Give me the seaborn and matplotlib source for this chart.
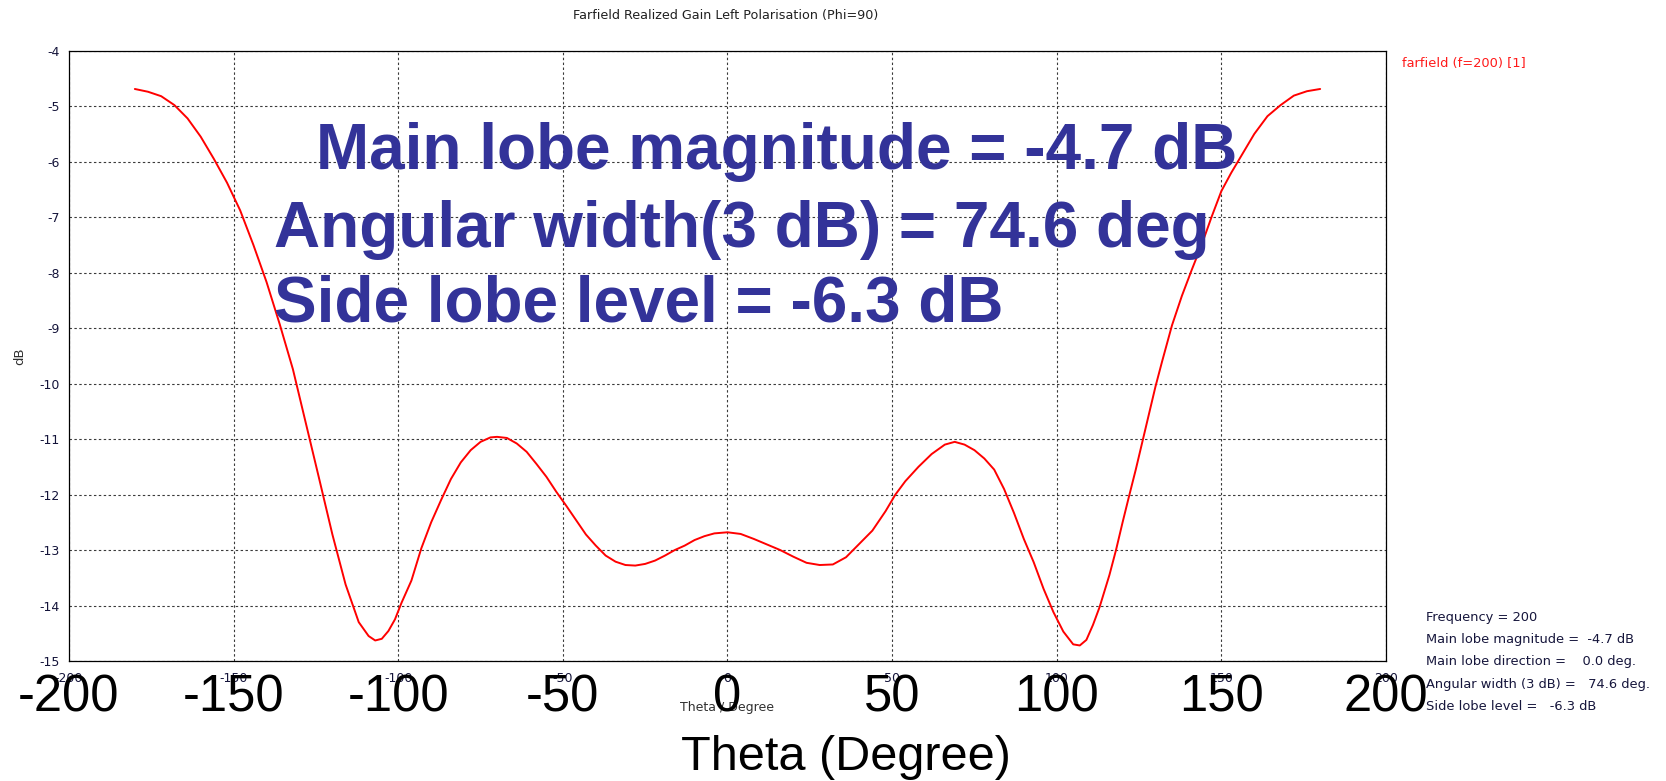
import matplotlib
matplotlib.use("Agg")
import matplotlib.pyplot as plt
from matplotlib import font_manager
from matplotlib.transforms import blended_transform_factory
import pandas as pd
import seaborn as sns

# Farfield cut, phi = 90 deg, f = 200
theta_deg = [-180, -176, -172, -168, -164, -160, -156, -152, -148, -144, -140,
             -136, -132, -128, -124, -120, -116, -112, -109, -107, -105, -103,
             -101, -99, -96, -93, -90, -87, -84, -81, -78, -75, -72, -70, -67,
             -64, -61, -58, -55, -52, -49, -46, -43, -40, -37, -34, -31, -28,
             -25, -22, -19, -16, -13, -10, -7, -4, 0, 4, 8, 12, 16, 20, 24, 28,
             32, 36, 40, 44, 48, 51, 54, 58, 62, 66, 69, 72, 75, 78, 81, 84, 87,
             90, 93, 96, 99, 102, 105, 107, 109, 111, 113, 116, 118, 120, 122,
             124, 126, 128, 130, 132, 135, 138, 141, 144, 147, 150, 153, 156,
             160, 164, 168, 172, 176, 180]
gain_db = [-4.69, -4.74, -4.82, -4.98, -5.22, -5.55, -5.95, -6.38, -6.88, -7.50,
           -8.17, -8.93, -9.74, -10.73, -11.72, -12.72, -13.62, -14.30, -14.55,
           -14.63, -14.60, -14.46, -14.25, -13.95, -13.55, -12.97, -12.50,
           -12.10, -11.72, -11.42, -11.20, -11.05, -10.97, -10.96, -10.98,
           -11.08, -11.23, -11.45, -11.68, -11.95, -12.20, -12.46, -12.72,
           -12.92, -13.10, -13.21, -13.27, -13.28, -13.25, -13.19, -13.10,
           -13.00, -12.92, -12.82, -12.75, -12.70, -12.68, -12.71, -12.80,
           -12.90, -13.00, -13.12, -13.23, -13.27, -13.26, -13.13, -12.89,
           -12.65, -12.30, -12.00, -11.76, -11.50, -11.27, -11.10, -11.05,
           -11.10, -11.20, -11.35, -11.55, -11.90, -12.33, -12.80, -13.22,
           -13.70, -14.12, -14.47, -14.70, -14.72, -14.62, -14.35, -14.03,
           -13.45, -13.00, -12.50, -12.02, -11.55, -11.05, -10.55, -10.05,
           -9.60, -8.95, -8.42, -7.95, -7.50, -7.00, -6.53, -6.20, -5.90,
           -5.50, -5.18, -4.98, -4.81, -4.73, -4.69]

x_ticks = [-200, -150, -100, -50, 0, 50, 100, 150, 200]
y_ticks = [-15, -14, -13, -12, -11, -10, -9, -8, -7, -6, -5, -4]

title_text = "Farfield Realized Gain Left Polarisation (Phi=90)"
series_label = "farfield (f=200) [1]"
x_label_small = "Theta / Degree"
y_label_small = "dB"
x_label_big = "Theta (Degree)"
summary_lines = ["Frequency = 200",
                 "Main lobe magnitude =  -4.7 dB",
                 "Main lobe direction =    0.0 deg.",
                 "Angular width (3 dB) =   74.6 deg.",
                 "Side lobe level =   -6.3 dB"]
headline_lines = ["Main lobe magnitude = -4.7 dB",
                  "Angular width(3 dB) = 74.6 deg",
                  "Side lobe level = -6.3 dB"]

sns.set_style("white")
plt.rcParams["font.family"] = ["Liberation Sans", "DejaVu Sans"]

installed = {f.name for f in font_manager.fontManager.ttflist}
if "Liberation Sans Narrow" in installed:
    small_family, k = "Liberation Sans Narrow", 1.15
else:
    small_family, k = "DejaVu Sans", 1.0

W_PX, H_PX = 1666, 781
fig = plt.figure(figsize=(W_PX / 100, H_PX / 100), dpi=100)
fig.patch.set_facecolor("white")

ax_l, ax_r, ax_t, ax_b = 69, 1386, 50.7, 661
ax = fig.add_axes([ax_l / W_PX, 1 - ax_b / H_PX,
                   (ax_r - ax_l) / W_PX, (ax_b - ax_t) / H_PX])
ax.set_facecolor("white")

df = pd.DataFrame({"Theta": theta_deg, "Gain": gain_db})
sns.lineplot(data=df, x="Theta", y="Gain", color="#ff0000", linewidth=1.4,
             estimator=None, sort=False, ax=ax, zorder=3)

ax.set_xlim(-200, 200)
ax.set_ylim(-15, -4)
ax.set_xticks(x_ticks)
ax.set_yticks(y_ticks)
ax.set_xticklabels([str(v) for v in x_ticks])
ax.set_yticklabels([str(v) for v in y_ticks])

ax.grid(True, color="#3a3a3a", linestyle=(0, (2.2, 2.2)), linewidth=0.8)
ax.set_axisbelow(True)
for sp in ax.spines.values():
    sp.set_visible(True)
    sp.set_color("black")
    sp.set_linewidth(0.9)

tick_color = "#14143a"
ax.tick_params(axis="both", direction="out", length=3, width=0.8,
               color="black", labelcolor=tick_color)
ax.tick_params(axis="y", pad=3.5)
ax.tick_params(axis="x", pad=5)
for lab in ax.get_yticklabels():
    lab.set_fontfamily(small_family)
    lab.set_fontsize(9 * k)
for lab in ax.get_xticklabels():
    lab.set_fontfamily(small_family)
    lab.set_fontsize(9 * k)

ax.set_xlabel(x_label_small, fontfamily=small_family, fontsize=9 * k,
              color="#303030")
ax.xaxis.set_label_coords(0.5, (ax_b - 707) / (ax_b - ax_t))
ax.xaxis.label.set_va("center")
ax.set_ylabel(y_label_small, fontfamily=small_family, fontsize=9.5 * k,
              color="#303030")
ax.yaxis.set_label_coords((20 - ax_l) / (ax_r - ax_l), 0.5)
ax.yaxis.label.set_va("center")


def fx(px):
    return px / W_PX


def fy(py):
    return 1 - py / H_PX


fig.text(fx((ax_l + ax_r) / 2 - 2), fy(15), title_text, ha="center",
         va="center", fontfamily=small_family, fontsize=9.2 * k,
         color="#202020")
fig.text(fx(1402), fy(64), series_label, ha="left", va="center",
         fontfamily=small_family, fontsize=9.4 * k, color="#ff1a1a")

for i, line in enumerate(summary_lines):
    fig.text(fx(1426), fy(617 + 22.5 * i), line, ha="left", va="center",
             fontfamily=small_family, fontsize=9.4 * k, color="#16163c")

# Large tick numerals under the axis
big_tr = blended_transform_factory(ax.transData, fig.transFigure)
for v in x_ticks:
    ax.text(v, fy(698), str(v), transform=big_tr, ha="center", va="center",
            fontsize=36.5, color="black", fontfamily="Liberation Sans",
            clip_on=False)
fig.text(fx(846), fy(757), x_label_big, ha="center", va="center",
         fontsize=35, color="black", fontfamily="Liberation Sans")

# Headline summary in bold
headline_pos = [(316, 169), (274, 247), (274, 322)]
for (px, py), line in zip(headline_pos, headline_lines):
    fig.text(fx(px), fy(py), line, ha="left", va="baseline", fontsize=46,
             fontweight="bold", color="#333399", fontfamily="Liberation Sans")

fig.savefig("out.png", dpi=100, facecolor="white")
